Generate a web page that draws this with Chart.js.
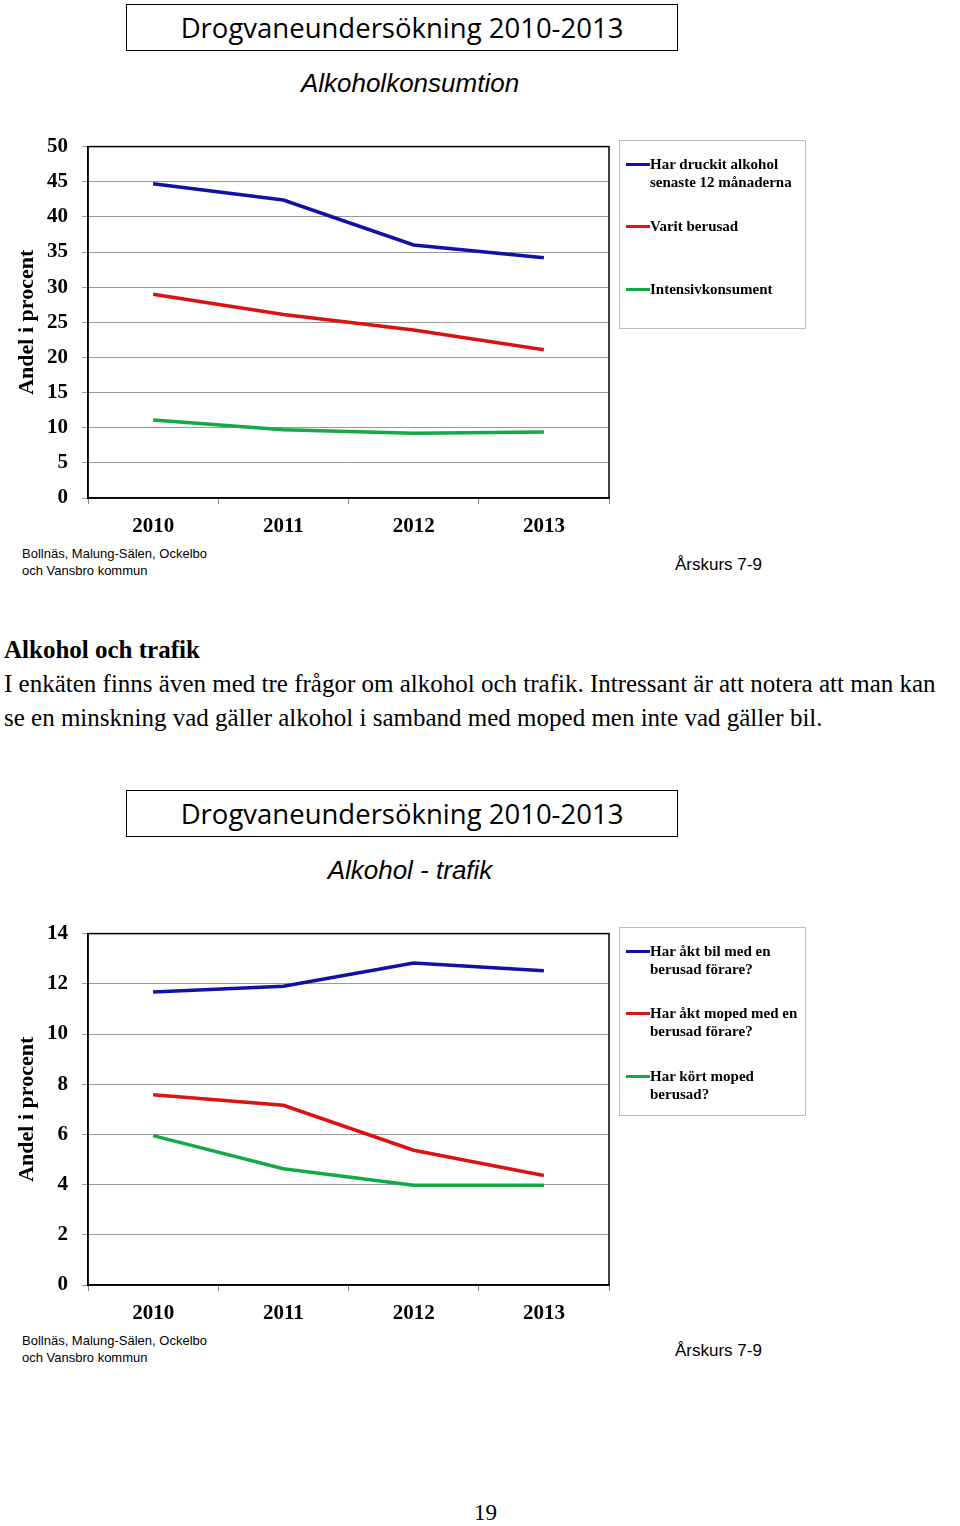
<!DOCTYPE html>
<html><head><meta charset="utf-8">
<script src="https://cdn.jsdelivr.net/npm/chart.js@4/dist/chart.umd.min.js"></script>
<style>
body{margin:0;width:960px;height:1526px;background:#fff;position:relative;font-family:"Liberation Serif",serif;}
.abs{position:absolute;}
.tbox{border:1px solid #000;width:550px;height:45px;left:126px;font-family:"Open Sans",sans-serif;font-size:27.5px;text-align:center;line-height:45px;}
.sub{font-family:"Liberation Sans",sans-serif;font-style:italic;font-size:26px;width:820px;left:0;text-align:center;}
.leg{border:1px solid #bbb;width:185px;height:187px;left:619px;font-weight:bold;font-size:15px;line-height:18px;}
.li{position:absolute;left:6px;padding-left:24px;white-space:nowrap;}
.li i{position:absolute;left:0;top:8px;width:24px;height:3px;}
.note{font-family:"Liberation Sans",sans-serif;font-size:13px;line-height:17px;left:22px;}
.ar{font-family:"Liberation Sans",sans-serif;font-size:17px;left:675px;}
.txt{left:4px;font-size:25px;line-height:34px;white-space:nowrap;}
</style></head><body>
<div class="abs tbox" style="top:4px">Drogvaneundersökning 2010-2013</div>
<div class="abs sub" style="top:68px">Alkoholkonsumtion</div>
<div class="abs" style="left:0;top:120px;width:620px;height:420px"><canvas id="c1"></canvas></div>
<div class="abs leg" style="top:140px">
<div class="li" style="top:14px"><i style="background:#1111aa"></i>Har druckit alkohol<br>senaste 12 månaderna</div>
<div class="li" style="top:76px"><i style="background:#dd1111"></i>Varit berusad</div>
<div class="li" style="top:139px"><i style="background:#11aa44"></i>Intensivkonsument</div>
</div>
<div class="abs note" style="top:545px">Bollnäs, Malung-Sälen, Ockelbo<br>och Vansbro kommun</div>
<div class="abs ar" style="top:555px">Årskurs 7-9</div>

<div class="abs txt" style="top:633px"><b>Alkohol och trafik</b><br>I enkäten finns även med tre frågor om alkohol och trafik. Intressant är att notera att man kan<br>se en minskning vad gäller alkohol i samband med moped men inte vad gäller bil.</div>

<div class="abs tbox" style="top:790px">Drogvaneundersökning 2010-2013</div>
<div class="abs sub" style="top:855px">Alkohol - trafik</div>
<div class="abs" style="left:0;top:907px;width:620px;height:420px"><canvas id="c2"></canvas></div>
<div class="abs leg" style="top:927px">
<div class="li" style="top:14px"><i style="background:#1111aa"></i>Har åkt bil med en<br>berusad förare?</div>
<div class="li" style="top:76px"><i style="background:#dd1111"></i>Har åkt moped med en<br>berusad förare?</div>
<div class="li" style="top:139px"><i style="background:#11aa44"></i>Har kört moped<br>berusad?</div>
</div>
<div class="abs note" style="top:1332px">Bollnäs, Malung-Sälen, Ockelbo<br>och Vansbro kommun</div>
<div class="abs ar" style="top:1341px">Årskurs 7-9</div>
<div class="abs" style="left:474px;top:1500px;font-size:23px">19</div>
<script>
const years=["2010","2011","2012","2013"];
const drukit=[44.7,42.4,36.0,34.2];
const berusad=[29.0,26.1,23.9,21.1];
const intensiv=[11.1,9.7,9.2,9.4];
const bil=[11.67,11.9,12.83,12.52];
const mopedPass=[7.58,7.16,5.37,4.36];
const mopedKort=[5.95,4.63,3.97,3.97];
const cols=["#1111aa","#dd1111","#11aa44"];
function mk(id,series,max,step){
 new Chart(document.getElementById(id),{type:'line',
  data:{labels:years,datasets:series.map((d,i)=>({data:d,borderColor:cols[i],borderWidth:3.5,pointRadius:0,tension:0,fill:false}))},
  options:{responsive:true,maintainAspectRatio:false,animation:false,
   layout:{padding:{top:18,right:11,left:14,bottom:0}},
   plugins:{legend:{display:false},tooltip:{enabled:false}},
   scales:{
    x:{offset:true,grid:{offset:true,drawOnChartArea:false,color:'#888',tickLength:6},border:{color:'#000',width:1.5},
       ticks:{color:'#000',font:{family:'Liberation Serif',size:21,weight:'bold'},padding:10},
       afterFit:s=>{s.height=42;}},
    y:{min:0,max:max,ticks:{stepSize:step,color:'#000',font:{family:'Liberation Serif',size:21,weight:'bold'},padding:14},
       grid:{color:'#999',tickLength:6},border:{color:'#000',width:1.5},
       title:{display:true,text:'Andel i procent',color:'#000',font:{family:'Liberation Serif',size:22,weight:'bold'},padding:0},
       afterFit:s=>{s.width=74;}}
   }},
  plugins:[{id:'frame',afterDraw(c){const a=c.chartArea,x=c.ctx;x.save();x.strokeStyle='#000';x.lineWidth=1.5;x.strokeRect(a.left,a.top,a.right-a.left,a.bottom-a.top);x.restore();}}]
 });
}
mk('c1',[drukit,berusad,intensiv],50,5);
mk('c2',[bil,mopedPass,mopedKort],14,2);
</script>
</body></html>
